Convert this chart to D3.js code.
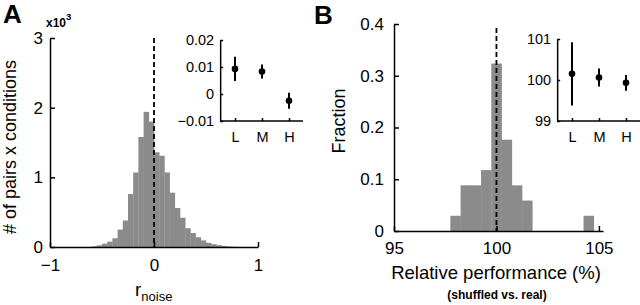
<!DOCTYPE html>
<html>
<head>
<meta charset="utf-8">
<script src="https://cdn.jsdelivr.net/npm/d3@7"></script>
<style>
  body { margin: 0; background: #fff; }
  svg { display: block; font-family: "Liberation Sans", Arial, sans-serif; }
  .axis path, .axis line { stroke: #000; stroke-width: 1.5; }
  .axis text { fill: #000; }
</style>
</head>
<body>
<div id="fig"></div>
<script>
// panel A histogram: left bin edges of r_noise and counts
const rnoiseEdges = [-0.60, -0.55, -0.50, -0.45, -0.40, -0.35, -0.30, -0.25, -0.20, -0.15, -0.10, -0.05,
                     0.00, 0.05, 0.10, 0.15, 0.20, 0.25, 0.30, 0.35, 0.40, 0.45, 0.50, 0.55, 0.60, 0.65, 0.70, 0.75];
const rnoiseCounts = [10, 24, 48, 77, 125, 250, 380, 760, 1070, 1580, 1940, 1800,
                      1360, 1310, 1070, 780, 560, 420, 270, 200, 140, 95, 60, 40, 26, 15, 8, 4];
const rnoiseBinW = 0.05;

// panel A inset
const groups = ["L", "M", "H"];
const rnoiseMean = [0.0093, 0.0083, -0.0025];
const rnoiseErr = [0.0045, 0.0026, 0.0030];

// panel B histogram: bin centres (%) and fractions
const perfCenters = [98.0, 98.5, 99.0, 99.5, 100.0, 100.5, 101.0, 101.5, 104.5];
const perfFrac = [1/34, 3/34, 3/34, 4/34, 11/34, 6/34, 3/34, 2/34, 1/34];
const perfBinW = 0.5;

// panel B inset
const perfMean = [100.15, 100.06, 99.93];
const perfErr = [0.77, 0.22, 0.19];

const W = 640, H = 305;
const barColor = "#8b8b8b";
const TICK = 5;

const svg = d3.select("#fig").append("svg")
  .attr("width", W)
  .attr("height", H);

function styleAxis(g) {
  g.classed("axis", true);
  g.selectAll("text").style("font-size", "17px");
}

// ---------- Panel A ----------
let xA = d3.scaleLinear().domain([-1, 1]).range([50, 258]);
let yA = d3.scaleLinear().domain([0, 3000]).range([247, 38]);

svg.append("g").selectAll("rect")
  .data(rnoiseEdges)
  .enter().append("rect")
    .attr("x", (d) => xA(d))
    .attr("width", (d) => xA(d + rnoiseBinW) - xA(d) + 0.3)
    .attr("y", (d, i) => yA(rnoiseCounts[i]))
    .attr("height", (d, i) => yA(0) - yA(rnoiseCounts[i]))
    .attr("fill", barColor);

svg.append("g")
  .attr("transform", "translate(0 " + yA(0) + ")")
  .call(d3.axisBottom(xA).tickValues([-1, 0, 1]).tickFormat((d) => d < 0 ? "\u2212" + (-d) : d)
    .tickSizeInner(-TICK).tickSizeOuter(0).tickPadding(12))
  .call(styleAxis);

svg.append("g")
  .attr("transform", "translate(" + xA(-1) + " 0)")
  .call(d3.axisLeft(yA).tickValues([0, 1000, 2000, 3000]).tickFormat((d) => d / 1000)
    .tickSizeInner(-TICK).tickSizeOuter(0).tickPadding(7))
  .call(styleAxis);

// dashed zero line
svg.append("line")
  .attr("x1", xA(0)).attr("x2", xA(0))
  .attr("y1", yA(3000)).attr("y2", yA(0))
  .attr("stroke", "#000").attr("stroke-width", 1.8)
  .attr("stroke-dasharray", "5 3");

// x10^3
let exp = svg.append("text").attr("x", 46).attr("y", 27).style("font-size", "12px").style("font-weight", "bold");
exp.append("tspan").text("x10");
exp.append("tspan").attr("dy", -7).style("font-size", "9.5px").text("3");

// axis labels
svg.append("text")
  .attr("transform", "translate(16 147) rotate(-90)")
  .attr("text-anchor", "middle")
  .style("font-size", "18px")
  .text("# of pairs x conditions");

let rl = svg.append("text").attr("x", 135).attr("y", 296).style("font-size", "19px");
rl.append("tspan").text("r");
rl.append("tspan").attr("dy", 5).style("font-size", "13px").text("noise");

svg.append("text").attr("x", 3).attr("y", 23)
  .style("font-size", "26px").style("font-weight", "bold").text("A");

// inset axes with mean +/- error points
function inset(ix, iy, xEnd, ticks, fmt, means, errs) {
  let g = svg.append("g");
  let x0 = ix(groups[0]) - (ix(groups[1]) - ix(groups[0])) * 0.55;
  let xa = g.append("g")
    .attr("transform", "translate(0 " + iy.range()[0] + ")")
    .call(d3.axisBottom(ix).tickSizeInner(-3).tickSizeOuter(0).tickPadding(11));
  xa.classed("axis", true);
  xa.select(".domain").attr("d", "M" + x0 + ",0H" + xEnd);
  xa.selectAll("text").style("font-size", "14.5px");

  let ya = g.append("g")
    .attr("transform", "translate(" + x0 + " 0)")
    .call(d3.axisLeft(iy).tickValues(ticks).tickFormat(fmt)
      .tickSizeInner(-3).tickSizeOuter(0).tickPadding(6));
  ya.classed("axis", true);
  ya.selectAll("text").style("font-size", "14.5px");

  g.selectAll(".err").data(groups).enter().append("line")
    .attr("x1", (d) => ix(d)).attr("x2", (d) => ix(d))
    .attr("y1", (d, i) => iy(means[i] + errs[i]))
    .attr("y2", (d, i) => iy(means[i] - errs[i]))
    .attr("stroke", "#000").attr("stroke-width", 2);
  g.selectAll(".pt").data(groups).enter().append("circle")
    .attr("cx", (d) => ix(d))
    .attr("cy", (d, i) => iy(means[i]))
    .attr("r", 3.3).attr("fill", "#000");
}

let ixA = d3.scalePoint().domain(groups).range([235, 289]);
let iyA = d3.scaleLinear().domain([-0.01, 0.02]).range([121, 40]);
inset(ixA, iyA, 303, [-0.01, 0, 0.01, 0.02], (d) => d === 0 ? "0" : (d < 0 ? "\u2212" : "") + Math.abs(d).toFixed(2),
  rnoiseMean, rnoiseErr);

// ---------- Panel B ----------
let xB = d3.scaleLinear().domain([95, 105.2]).range([394, 603]);
let yB = d3.scaleLinear().domain([0, 0.4]).range([231, 24]);

svg.append("g").selectAll("rect")
  .data(perfCenters)
  .enter().append("rect")
    .attr("x", (d) => xB(d - perfBinW / 2))
    .attr("width", (d) => xB(d + perfBinW / 2) - xB(d - perfBinW / 2) + 0.3)
    .attr("y", (d, i) => yB(perfFrac[i]))
    .attr("height", (d, i) => yB(0) - yB(perfFrac[i]))
    .attr("fill", barColor);

svg.append("g")
  .attr("transform", "translate(0 " + yB(0) + ")")
  .call(d3.axisBottom(xB).tickValues([95, 100, 105]).tickFormat(d3.format("d"))
    .tickSizeInner(-TICK).tickSizeOuter(0).tickPadding(11))
  .call(styleAxis);

svg.append("g")
  .attr("transform", "translate(" + xB(95) + " 0)")
  .call(d3.axisLeft(yB).tickValues([0, 0.1, 0.2, 0.3, 0.4]).tickFormat((d) => d === 0 ? "0" : d3.format(".1f")(d))
    .tickSizeInner(-TICK).tickSizeOuter(0).tickPadding(10))
  .call(styleAxis);

svg.append("line")
  .attr("x1", xB(100)).attr("x2", xB(100))
  .attr("y1", 28).attr("y2", yB(0))
  .attr("stroke", "#000").attr("stroke-width", 1.8)
  .attr("stroke-dasharray", "5 3");

svg.append("text")
  .attr("transform", "translate(345 121) rotate(-90)")
  .attr("text-anchor", "middle")
  .style("font-size", "18px")
  .text("Fraction");

svg.append("text")
  .attr("x", 496).attr("y", 279)
  .attr("text-anchor", "middle")
  .style("font-size", "18.5px")
  .text("Relative performance (%)");

svg.append("text")
  .attr("x", 497).attr("y", 299)
  .attr("text-anchor", "middle")
  .style("font-size", "12px").style("font-weight", "bold")
  .text("(shuffled vs. real)");

svg.append("text").attr("x", 314).attr("y", 24)
  .style("font-size", "26px").style("font-weight", "bold").text("B");

// inset B
let ixB = d3.scalePoint().domain(groups).range([572, 626]);
let iyB = d3.scaleLinear().domain([99, 101]).range([121, 39]);
inset(ixB, iyB, 641, [99, 100, 101], d3.format("d"), perfMean, perfErr);
</script>
</body>
</html>
